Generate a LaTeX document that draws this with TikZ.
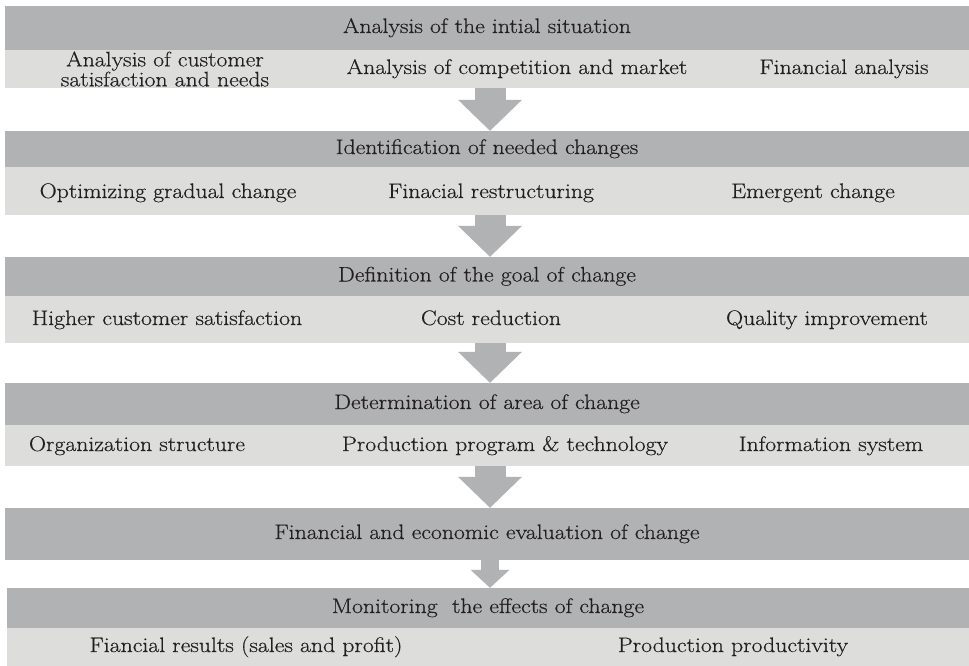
\documentclass[tikz,border=0pt]{standalone}
\usepackage{fontspec}
\setmainfont{Latin Modern Roman}[FakeStretch=1.13, FakeBold=0.4]
\usepackage{tikz}
\usepackage{xcolor}
\usetikzlibrary{arrows.meta, positioning}
\definecolor{bandgray}{RGB}{177,178,180}
\definecolor{rowgray}{RGB}{221,221,220}
\definecolor{inkgray}{RGB}{35,31,32}

\begin{document}
\begin{tikzpicture}[x=1pt, y=-1pt,
  darkband/.style={rectangle, fill=bandgray, minimum width=964pt, inner sep=0pt, text=inkgray, text height=15pt, text depth=5pt, font=\fontsize{21}{24}\selectfont},
  lightrow/.style={rectangle, fill=rowgray, minimum width=964pt, inner sep=0pt},
  item/.style={inner sep=0pt, align=center, text=inkgray, font=\fontsize{21}{20}\selectfont},
  lineitem/.style={item, text height=15pt, text depth=5pt},
  flow/.style={draw=bandgray, line width=31pt, -{Triangle[width=64pt, length=31pt, line width=0pt]}},
  smallflow/.style={draw=bandgray, line width=18pt, -{Triangle[width=39pt, length=18pt, line width=0pt]}}]
\useasboundingbox (0,0) rectangle (969,666);
\coordinate (axis) at (490,0);

% Analysis of the initial situation
\node[darkband, minimum height=44pt] (situation) at (487,28) {Analysis of the intial situation};
\node[lightrow, minimum height=38pt] (situationrow) at (487,69) {};
\node[item] (customer) at (165,69) {Analysis of customer\\satisfaction and needs};
\node[lineitem] (market) at (517,69) {Analysis of competition and market};
\node[lineitem] (finance) at (844,69) {Financial analysis};

% Identification of needed changes
\node[darkband, minimum height=36pt] (changes) at (487,149) {Identification of needed changes};
\node[lightrow, minimum height=48pt] (changesrow) at (487,191) {};
\node[lineitem] (gradual) at (168,193) {Optimizing gradual change};
\node[lineitem] (restruct) at (491,193) {Finacial restructuring};
\node[lineitem] (emergent) at (813,193) {Emergent change};

% Definition of the goal
\node[darkband, minimum height=39pt] (goal) at (487,276.5) {Definition of the goal of change};
\node[lightrow, minimum height=47pt] (goalrow) at (487,319.5) {};
\node[lineitem] (satisfaction) at (167,320) {Higher customer satisfaction};
\node[lineitem] (cost) at (491,320) {Cost reduction};
\node[lineitem] (quality) at (827,320) {Quality improvement};

% Determination of area
\node[darkband, minimum height=42pt] (area) at (487,404) {Determination of area of change};
\node[lightrow, minimum height=41pt] (arearow) at (487,445.5) {};
\node[lineitem] (organization) at (137,446) {Organization structure};
\node[lineitem] (production) at (505,446) {Production program \& technology};
\node[lineitem] (information) at (831,446) {Information system};

% Evaluation
\node[darkband, minimum height=52pt] (evaluation) at (487,534) {Financial and economic evaluation of change};

% Monitoring
\node[darkband, minimum width=962pt, minimum height=40pt] (monitoring) at (488,608) {Monitoring\ \ the effects of change};
\node[lightrow, minimum width=962pt, minimum height=38pt] (monitoringrow) at (488,647) {};
\node[lineitem] (results) at (246,647) {Fiancial results (sales and profit)};
\node[lineitem] (productivity) at (733,647) {Production productivity};

% Block arrows
\draw[flow] (situationrow.south -| axis) -- (changes.north -| axis);
\draw[flow] (changesrow.south -| axis) -- (goal.north -| axis);
\draw[flow] (goalrow.south -| axis) -- (area.north -| axis);
\draw[flow] (arearow.south -| axis) -- (evaluation.north -| axis);
\draw[smallflow] (evaluation.south -| axis) -- (monitoring.north -| axis);
\end{tikzpicture}
\end{document}
